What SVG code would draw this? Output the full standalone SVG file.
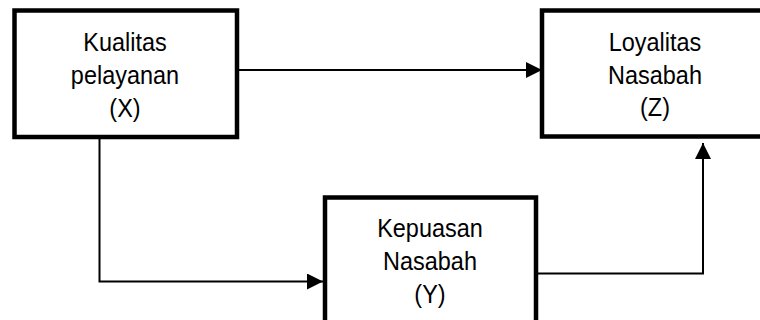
<svg xmlns="http://www.w3.org/2000/svg" width="760" height="320" viewBox="0 0 760 320">
<defs>
<style>
.box{fill:#fff;stroke:#000;stroke-width:4.5}
.lbl{font-family:"Liberation Sans",Arial,sans-serif;font-size:25.5px;fill:#000;text-anchor:middle}
.con{fill:none;stroke:#000;stroke-width:2}
</style>
<marker id="ah" markerUnits="userSpaceOnUse" markerWidth="16" markerHeight="16" viewBox="0 0 15 15" refX="15" refY="7.5" orient="auto">
<path d="M0,0 L15,7.5 L0,15 Z" fill="#000"/>
</marker>
</defs>
<rect width="760" height="320" fill="#fff"/>
<g id="connectors">
<path class="con" d="M239,70 H542" marker-end="url(#ah)"/>
<path class="con" d="M99.5,139 V281.5 H323" marker-end="url(#ah)"/>
<path class="con" d="M538,273.5 H703 V143" marker-end="url(#ah)"/>
</g>
<g id="nodeX">
<rect class="box" x="14.5" y="10.5" width="222.5" height="126.5"/>
<g transform="translate(125 0) scale(0.92 1)">
<text class="lbl" x="0" y="51.5">Kualitas</text>
<text class="lbl" x="0" y="84">pelayanan</text>
<text class="lbl" x="0" y="117">(X)</text>
</g>
</g>
<g id="nodeZ">
<rect class="box" x="542" y="10.5" width="226" height="126"/>
<g transform="translate(655 0) scale(0.92 1)">
<text class="lbl" x="0" y="51">Loyalitas</text>
<text class="lbl" x="0" y="84">Nasabah</text>
<text class="lbl" x="0" y="116.5">(Z)</text>
</g>
</g>
<g id="nodeY">
<rect class="box" x="325" y="197.5" width="211" height="127"/>
<g transform="translate(430 0) scale(0.92 1)">
<text class="lbl" x="0" y="237">Kepuasan</text>
<text class="lbl" x="0" y="270">Nasabah</text>
<text class="lbl" x="0" y="303">(Y)</text>
</g>
</g>
</svg>
